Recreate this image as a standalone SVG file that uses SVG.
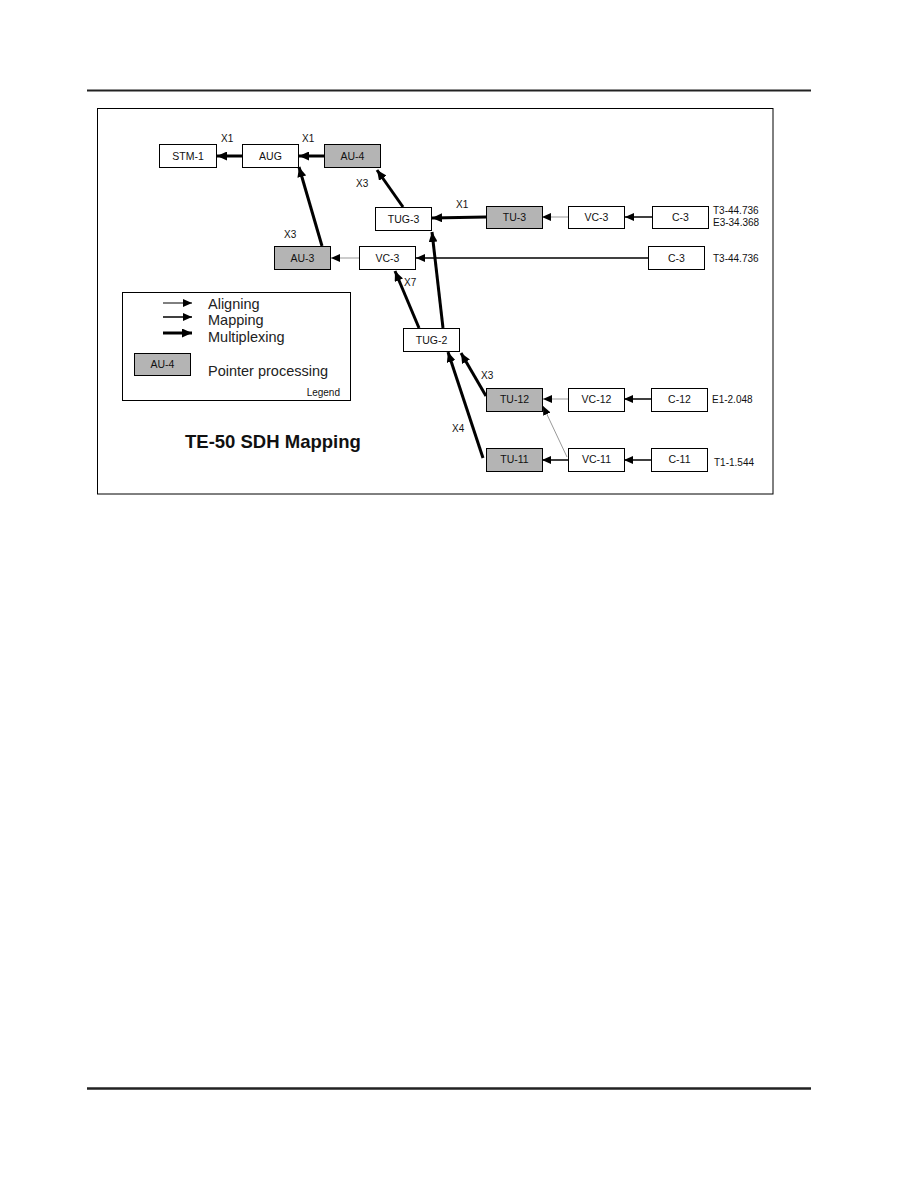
<svg xmlns="http://www.w3.org/2000/svg" width="918" height="1188" viewBox="0 0 918 1188">
<style>
.box{fill:#fff;stroke:#000;stroke-width:1}
.gbox{fill:#b4b4b4;stroke:#000;stroke-width:1}
.t{font-family:"Liberation Sans",Arial,sans-serif;font-size:10.5px;fill:#111;text-anchor:middle}
.lab{font-family:"Liberation Sans",Arial,sans-serif;font-size:10px;fill:#111}
.leg{font-family:"Liberation Sans",Arial,sans-serif;font-size:14.5px;fill:#222}
.mux{stroke:#000;stroke-width:3;fill:none;marker-end:url(#hb)}
.map{stroke:#000;stroke-width:1.5;fill:none;marker-end:url(#hm)}
.aln{stroke:#999;stroke-width:1;fill:none;marker-end:url(#ha)}
</style>
<defs>
<marker id="hb" markerUnits="userSpaceOnUse" markerWidth="11" markerHeight="9" refX="10" refY="4.5" orient="auto"><path d="M0,0 L10,4.5 L0,9 z" fill="#000"/></marker>
<marker id="hm" markerUnits="userSpaceOnUse" markerWidth="10" markerHeight="8" refX="9" refY="4" orient="auto"><path d="M0,0 L9,4 L0,8 z" fill="#000"/></marker>
<marker id="ha" markerUnits="userSpaceOnUse" markerWidth="10" markerHeight="8" refX="9" refY="4" orient="auto"><path d="M0,0 L9,4 L0,8 z" fill="#000"/></marker>
</defs>
<rect width="918" height="1188" fill="#fff"/>
<line x1="87" y1="90.5" x2="811" y2="90.5" stroke="#222" stroke-width="2"/>
<line x1="87" y1="1088.5" x2="811" y2="1088.5" stroke="#222" stroke-width="2.5"/>
<rect x="97.5" y="108.5" width="675.5" height="385.5" fill="none" stroke="#000" stroke-width="1"/>

<g id="connectors">
<line class="mux" x1="242" y1="156" x2="217" y2="156"/>
<line class="mux" x1="324" y1="156" x2="299" y2="156"/>
<line class="mux" x1="403" y1="207" x2="377" y2="170"/>
<line class="mux" x1="322" y1="246" x2="299" y2="167"/>
<line class="mux" x1="486" y1="217" x2="432" y2="218"/>
<line class="mux" x1="443" y1="328" x2="432" y2="232"/>
<line class="mux" x1="419" y1="328" x2="395" y2="271"/>
<line class="mux" x1="486" y1="396" x2="461" y2="353"/>
<line class="mux" x1="483" y1="458" x2="448" y2="352"/>
<line class="map" x1="652" y1="217" x2="625" y2="217"/>
<line class="map" x1="648" y1="258" x2="416" y2="258" stroke-width="1"/>
<line class="map" x1="651" y1="399" x2="624" y2="399" stroke="#1a1a40"/>
<line class="map" x1="651" y1="460" x2="624" y2="460" stroke="#1a1a40"/>
<line class="map" x1="568" y1="460" x2="542" y2="460"/>
<line class="aln" x1="568" y1="217" x2="542" y2="217"/>
<line class="aln" x1="359" y1="258" x2="331" y2="258"/>
<line class="aln" x1="568" y1="399" x2="543" y2="399"/>
<line class="aln" x1="567" y1="457" x2="543" y2="406"/>
</g>

<g id="n-stm1"><rect class="box" x="159.5" y="144.5" width="57" height="23"/><text class="t" x="188" y="160">STM-1</text></g>
<g id="n-aug"><rect class="box" x="242.5" y="144.5" width="56" height="23"/><text class="t" x="270.5" y="160">AUG</text></g>
<g id="n-au4"><rect class="gbox" x="324.5" y="144.5" width="56" height="23"/><text class="t" x="352.5" y="160">AU-4</text></g>
<g id="n-tug3"><rect class="box" x="375.5" y="207.5" width="56" height="23"/><text class="t" x="403.5" y="223">TUG-3</text></g>
<g id="n-tu3"><rect class="gbox" x="486.5" y="206.5" width="56" height="22"/><text class="t" x="514.5" y="221">TU-3</text></g>
<g id="n-vc3a"><rect class="box" x="568.5" y="206.5" width="56" height="22"/><text class="t" x="596.5" y="221">VC-3</text></g>
<g id="n-c3a"><rect class="box" x="652.5" y="206.5" width="56" height="22"/><text class="t" x="680.5" y="221">C-3</text></g>
<g id="n-au3"><rect class="gbox" x="274.5" y="246.5" width="56" height="23"/><text class="t" x="302.5" y="262">AU-3</text></g>
<g id="n-vc3b"><rect class="box" x="359.5" y="246.5" width="56" height="23"/><text class="t" x="387.5" y="262">VC-3</text></g>
<g id="n-c3b"><rect class="box" x="648.5" y="246.5" width="56" height="23"/><text class="t" x="676.5" y="262">C-3</text></g>
<g id="n-tug2"><rect class="box" x="403.5" y="328.5" width="56" height="23"/><text class="t" x="431.5" y="344">TUG-2</text></g>
<g id="n-tu12"><rect class="gbox" x="486.5" y="388.5" width="56" height="23"/><text class="t" x="514.5" y="403">TU-12</text></g>
<g id="n-vc12"><rect class="box" x="568.5" y="388.5" width="56" height="23"/><text class="t" x="596.5" y="403">VC-12</text></g>
<g id="n-c12"><rect class="box" x="651.5" y="388.5" width="56" height="23"/><text class="t" x="679.5" y="403">C-12</text></g>
<g id="n-tu11"><rect class="gbox" x="486.5" y="448.5" width="56" height="23"/><text class="t" x="514.5" y="463">TU-11</text></g>
<g id="n-vc11"><rect class="box" x="568.5" y="448.5" width="56" height="23"/><text class="t" x="596.5" y="463">VC-11</text></g>
<g id="n-c11"><rect class="box" x="651.5" y="448.5" width="56" height="23"/><text class="t" x="679.5" y="463">C-11</text></g>

<g id="labels">
<text class="lab" x="221" y="142">X1</text>
<text class="lab" x="302" y="142">X1</text>
<text class="lab" x="356" y="187">X3</text>
<text class="lab" x="284" y="238">X3</text>
<text class="lab" x="456" y="208">X1</text>
<text class="lab" x="404" y="286">X7</text>
<text class="lab" x="481" y="379">X3</text>
<text class="lab" x="452" y="432">X4</text>
<text class="lab" x="713" y="214" font-size="10.5">T3-44.736</text>
<text class="lab" x="713" y="226" font-size="10.5">E3-34.368</text>
<text class="lab" x="713" y="262" font-size="10.5">T3-44.736</text>
<text class="lab" x="712" y="403" font-size="10.5">E1-2.048</text>
<text class="lab" x="714" y="466" font-size="10.5">T1-1.544</text>
</g>

<g id="legend">
<rect x="122.5" y="292.5" width="228" height="108" fill="#fff" stroke="#000" stroke-width="1"/>
<line x1="163" y1="303" x2="192" y2="303" stroke="#000" stroke-width="1" marker-end="url(#ha)"/>
<line x1="163" y1="317" x2="192" y2="317" stroke="#000" stroke-width="1.5" marker-end="url(#hm)"/>
<line x1="163" y1="333" x2="192" y2="333" stroke="#000" stroke-width="3" marker-end="url(#hb)"/>
<text class="leg" x="208" y="309">Aligning</text>
<text class="leg" x="208" y="325">Mapping</text>
<text class="leg" x="208" y="342">Multiplexing</text>
<rect class="gbox" x="134.5" y="353.5" width="56" height="22"/>
<text class="t" x="162.5" y="368">AU-4</text>
<text class="leg" x="208" y="376">Pointer processing</text>
<text class="lab" x="340" y="396" font-size="11" text-anchor="end">Legend</text>
</g>

<text x="185" y="448" font-family="'Liberation Sans',Arial,sans-serif" font-size="18.5" font-weight="bold" fill="#111">TE-50 SDH Mapping</text>
</svg>
